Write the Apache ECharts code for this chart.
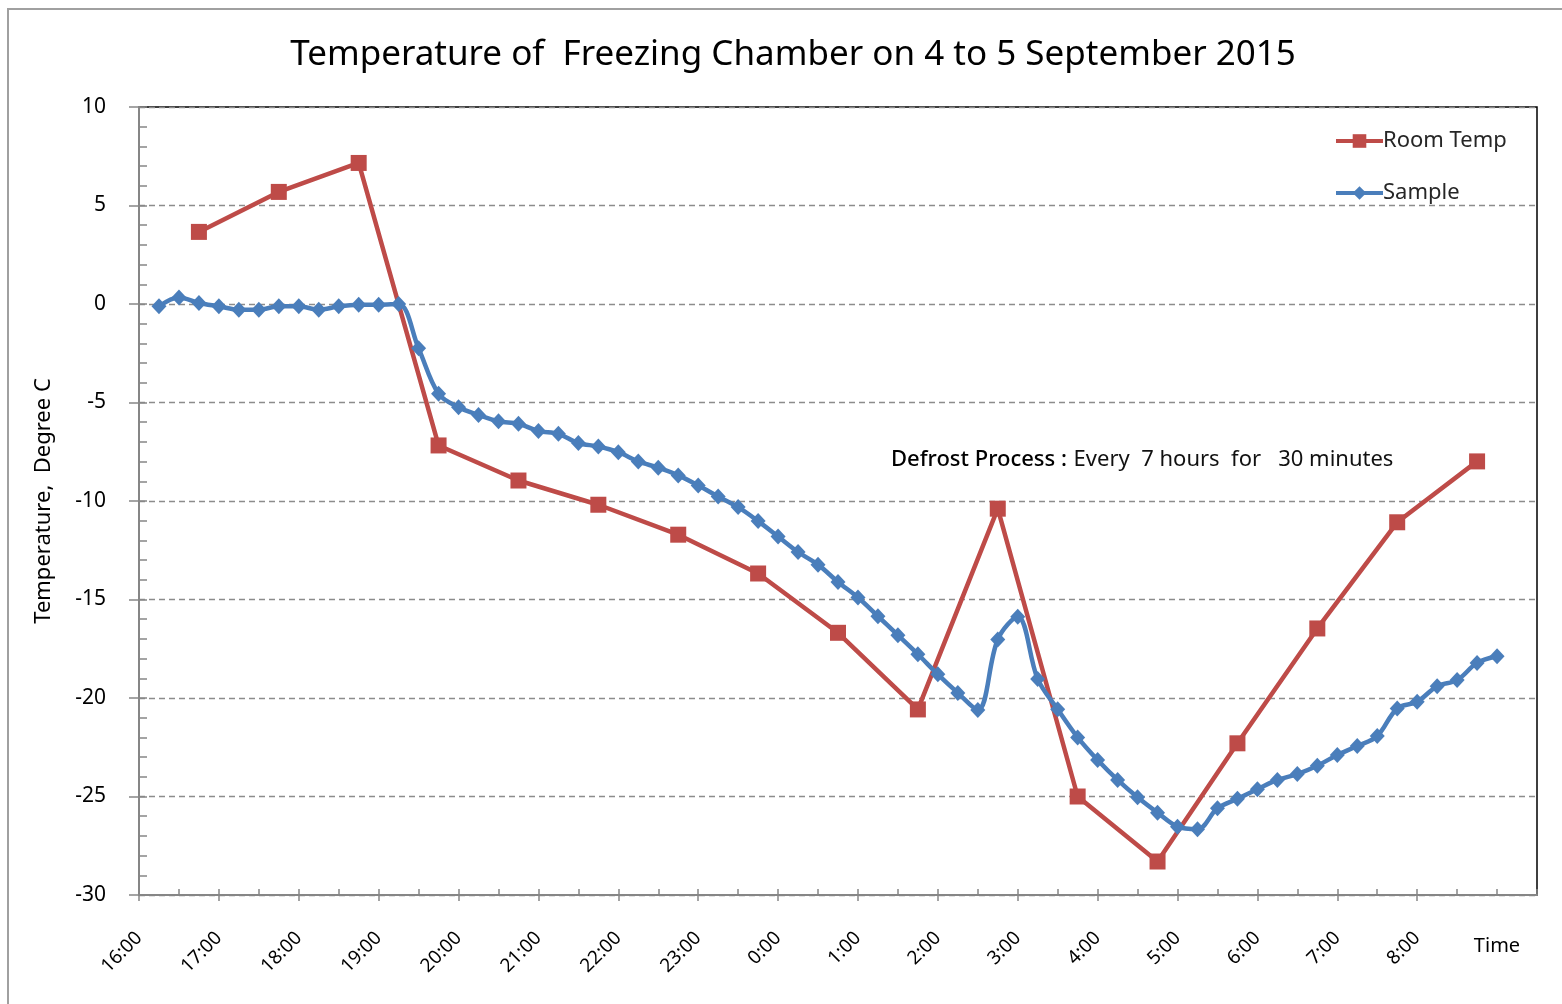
<!DOCTYPE html>
<html>
<head>
<meta charset="utf-8">
<script src="https://cdn.jsdelivr.net/npm/echarts@6/dist/echarts.min.js"></script>
<style>html,body{margin:0;padding:0;background:#fff}#c{width:1562px;height:1004px}</style>
</head>
<body>
<div id="c"></div>
<script>
const titleText = 'Temperature of  Freezing Chamber on 4 to 5 September 2015';
const yAxisName = 'Temperature,  Degree C';
const xTickLabels = ['16:00','17:00','18:00','19:00','20:00','21:00','22:00','23:00','0:00','1:00','2:00','3:00','4:00','5:00','6:00','7:00','8:00'];
const roomTimes = ['16:45','17:45','18:45','19:45','20:45','21:45','22:45','23:45','0:45','1:45','2:45','3:45','4:45','5:45','6:45','7:45','8:45'];
const roomValues = [3.66,5.69,7.16,-7.18,-8.96,-10.19,-11.71,-13.68,-16.69,-20.58,-10.39,-25.0,-28.3,-22.3,-16.47,-11.08,-7.99];
const sampleTimes = ['16:15','16:30','16:45','17:00','17:15','17:30','17:45','18:00','18:15','18:30','18:45','19:00','19:15',
  '19:30','19:45','20:00','20:15','20:30','20:45','21:00','21:15','21:30','21:45','22:00','22:15','22:30','22:45','23:00','23:15','23:30','23:45',
  '0:00','0:15','0:30','0:45','1:00','1:15','1:30','1:45','2:00','2:15','2:30',
  '2:45','3:00','3:15','3:30','3:45','4:00','4:15','4:30','4:45','5:00','5:15',
  '5:30','5:45','6:00','6:15','6:30','6:45','7:00','7:15','7:30','7:45','8:00','8:15','8:30','8:45','9:00'];
const sampleValues = [-0.12,0.33,0.05,-0.12,-0.29,-0.29,-0.12,-0.12,-0.29,-0.12,-0.04,-0.04,0.0,
  -2.25,-4.56,-5.24,-5.63,-5.95,-6.08,-6.45,-6.59,-7.06,-7.23,-7.52,-7.99,-8.31,-8.70,-9.21,-9.77,-10.31,-11.02,
  -11.80,-12.59,-13.23,-14.11,-14.90,-15.85,-16.81,-17.78,-18.80,-19.74,-20.61,
  -17.03,-15.88,-19.04,-20.57,-22.0,-23.15,-24.16,-25.04,-25.82,-26.53,-26.66,
  -25.60,-25.12,-24.63,-24.16,-23.86,-23.44,-22.89,-22.44,-21.93,-20.53,-20.19,-19.40,-19.09,-18.22,-17.88];

function toHours(t){const p=t.split(':');let h=+p[0]+(+p[1])/60;if(h<16)h+=24;return h-16;}
const roomData = roomTimes.map((t,i)=>[toHours(t),roomValues[i]]);
const sampleData = sampleTimes.map((t,i)=>[toHours(t),sampleValues[i]]);
const xTickValues = xTickLabels.map(toHours);

const FONT = '"Noto Sans", "Open Sans", sans-serif';
const axisGray = '#868686';
const chart = echarts.init(document.getElementById('c'), null, {renderer:'canvas'});
chart.setOption({
  animation:false,
  backgroundColor:'#fff',
  textStyle:{fontFamily:FONT},
  grid:{left:139,right:25,top:107,bottom:109,show:true,borderColor:'#000',borderWidth:1.5,backgroundColor:'transparent'},
  xAxis:[{
    type:'value',min:0,max:17.5,interval:1,position:'bottom',
    axisLine:{show:true,onZero:false,lineStyle:{color:axisGray,width:2}},
    axisTick:{show:true,inside:false,length:6,lineStyle:{color:axisGray,width:1.5},customValues:xTickValues},
    axisLabel:{show:true,rotate:45,margin:40,fontSize:19,color:'#000',fontFamily:FONT,
      customValues:xTickValues,
      formatter:(v)=>{const i=xTickValues.indexOf(v);return i>=0?xTickLabels[i]:'';}},
    splitLine:{show:false}
  },{
    type:'value',min:0,max:17.5,interval:0.5,position:'bottom',
    axisLine:{show:false,onZero:false},
    axisTick:{show:true,inside:true,length:6,lineStyle:{color:axisGray,width:1.5}},
    axisLabel:{show:false},splitLine:{show:false}
  }],
  yAxis:[{
    type:'value',min:-30,max:10,interval:5,position:'left',
    axisLine:{show:true,onZero:false,lineStyle:{color:axisGray,width:2}},
    axisTick:{show:true,inside:false,length:10,lineStyle:{color:axisGray,width:1.5}},
    axisLabel:{show:true,margin:33,fontSize:21,color:'#000',fontFamily:FONT},
    splitLine:{show:true,lineStyle:{color:'#8c8c8c',width:1.3,type:[6,4]}},
    name:yAxisName,nameLocation:'middle',nameGap:84,nameRotate:90,
    nameTextStyle:{fontSize:22,color:'#000',fontFamily:FONT,padding:[0,0,0,0]}
  },{
    type:'value',min:-30,max:10,interval:1,position:'left',
    axisLine:{show:false,onZero:false},
    axisTick:{show:true,inside:true,length:8,lineStyle:{color:axisGray,width:1.5}},
    axisLabel:{show:false},splitLine:{show:false}
  }],
  legend:{
    orient:'vertical',left:1329,top:125,itemWidth:47,itemHeight:17,itemGap:30,
    lineStyle:{width:4},
    textStyle:{fontSize:22,color:'#262626',fontFamily:FONT,padding:[0,0,0,-5]},
    data:['Room Temp','Sample']
  },
  graphic:[
    {type:'rect',silent:true,z:-10,shape:{x:8,y:9,width:1700,height:1200},style:{fill:'none',stroke:'#a0a0a0',lineWidth:2}},
    {type:'text',x:793,y:55,style:{text:titleText,font:'35px '+FONT,fill:'#000',textAlign:'center',textVerticalAlign:'middle'}},
    {type:'text',x:1497,y:946,style:{text:'Time',font:'20px '+FONT,fill:'#000',textAlign:'center',textVerticalAlign:'middle'}},
    {type:'text',x:891,y:460,style:{
      text:'{b|Defrost Process :}  {n|Every  7 hours  for   30 minutes}',
      textVerticalAlign:'middle',
      rich:{b:{fontSize:22,fontWeight:500,fill:'#000',fontFamily:FONT},n:{fontSize:22,fill:'#111',fontFamily:FONT}}
    }}
  ],
  series:[
    {name:'Room Temp',type:'line',data:roomData,xAxisIndex:0,yAxisIndex:0,
      symbol:'rect',symbolSize:16,z:2,
      lineStyle:{color:'#BE4B48',width:4.5},itemStyle:{color:'#BE4B48'}},
    {name:'Sample',type:'line',data:sampleData,xAxisIndex:0,yAxisIndex:0,smooth:0.35,
      symbol:'diamond',symbolSize:[15,16],z:3,
      lineStyle:{color:'#4A7EBB',width:4.5},itemStyle:{color:'#4A7EBB'}}
  ]
});
</script>
</body>
</html>
